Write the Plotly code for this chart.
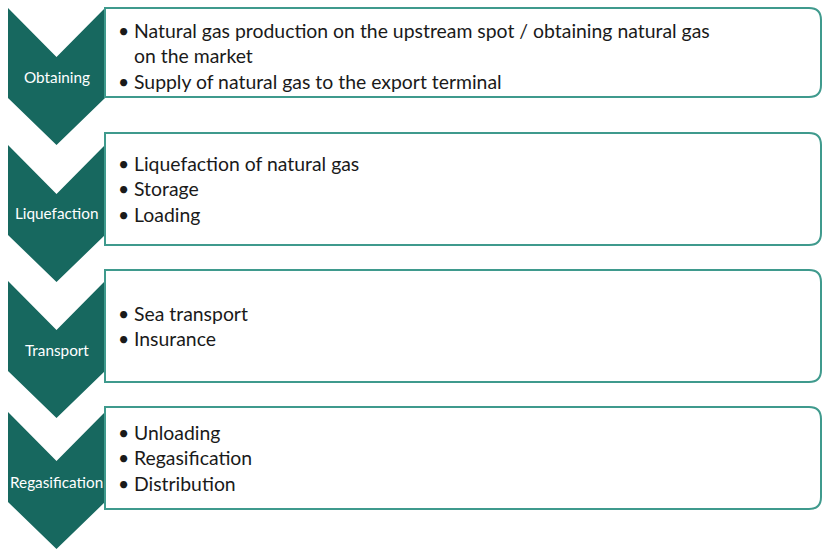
import plotly.graph_objects as go

# ---- data ----
stages = ["Obtaining", "Liquefaction", "Transport", "Regasification"]
bullets = [
    [["Natural gas production on the upstream spot / obtaining natural gas", "on the market"],
     ["Supply of natural gas to the export terminal"]],
    [["Liquefaction of natural gas"], ["Storage"], ["Loading"]],
    [["Sea transport"], ["Insurance"]],
    [["Unloading"], ["Regasification"], ["Distribution"]],
]

# ---- layout constants (pixels, y downwards) ----
W, H = 823, 550
chev_top = [8, 145, 281, 412]
chev_x0, chev_x1 = 8, 105
notch = 49
corner_off = 90
point_off = 137
label_y = [77, 213, 350, 482]
box_y = [(8, 97), (133, 245), (270, 382), (407, 509)]
box_x0, box_x1, radius = 105, 821, 12
text_first_y = [30, 163, 313, 432]
line_gap = 25.5
bullet_x, text_x = 116, 132

DARK = "#17685f"
EDGE = "#3f9a8d"
TXT = "#1a1a1a"
FONT = "Lato"
TSIZE = 19.4

fig = go.Figure()
shapes = []
annotations = []
xm = (chev_x0 + chev_x1) / 2

for i, name in enumerate(stages):
    t = chev_top[i]
    xs = [chev_x0, xm, chev_x1, chev_x1, xm, chev_x0, chev_x0]
    ys = [t, t + notch, t, t + corner_off, t + point_off, t + corner_off, t]
    fig.add_trace(go.Scatter(x=xs, y=ys, fill="toself", fillcolor=DARK,
                             line=dict(color=DARK, width=0), mode="lines",
                             hoverinfo="skip", showlegend=False))
    annotations.append(dict(x=xm, y=label_y[i], text=name, showarrow=False,
                            xanchor="center", yanchor="middle",
                            font=dict(family=FONT, size=15.3, color="white")))
    y0, y1 = box_y[i]
    r = radius
    path = (f"M {box_x0},{y0} L {box_x1 - r},{y0} Q {box_x1},{y0} {box_x1},{y0 + r} "
            f"L {box_x1},{y1 - r} Q {box_x1},{y1} {box_x1 - r},{y1} L {box_x0},{y1} Z")
    shapes.append(dict(type="path", path=path, xref="x", yref="y",
                       line=dict(color=EDGE, width=2), fillcolor="white", layer="above"))
    y = text_first_y[i]
    for item in bullets[i]:
        annotations.append(dict(x=bullet_x, y=y, text="•", showarrow=False,
                                xanchor="left", yanchor="middle",
                                font=dict(family=FONT, size=TSIZE, color=TXT)))
        for line in item:
            annotations.append(dict(x=text_x, y=y, text=line, showarrow=False,
                                    xanchor="left", yanchor="middle",
                                    font=dict(family=FONT, size=TSIZE, color=TXT)))
            y += line_gap

fig.update_layout(
    width=W, height=H, margin=dict(l=0, r=0, t=0, b=0),
    paper_bgcolor="white", plot_bgcolor="white",
    xaxis=dict(range=[0, W], visible=False, fixedrange=True),
    yaxis=dict(range=[H, 0], visible=False, fixedrange=True),
    shapes=shapes, annotations=annotations, showlegend=False,
)
fig.write_html("out.html", config={"displayModeBar": False},
               post_script="document.body.style.margin='0';")
